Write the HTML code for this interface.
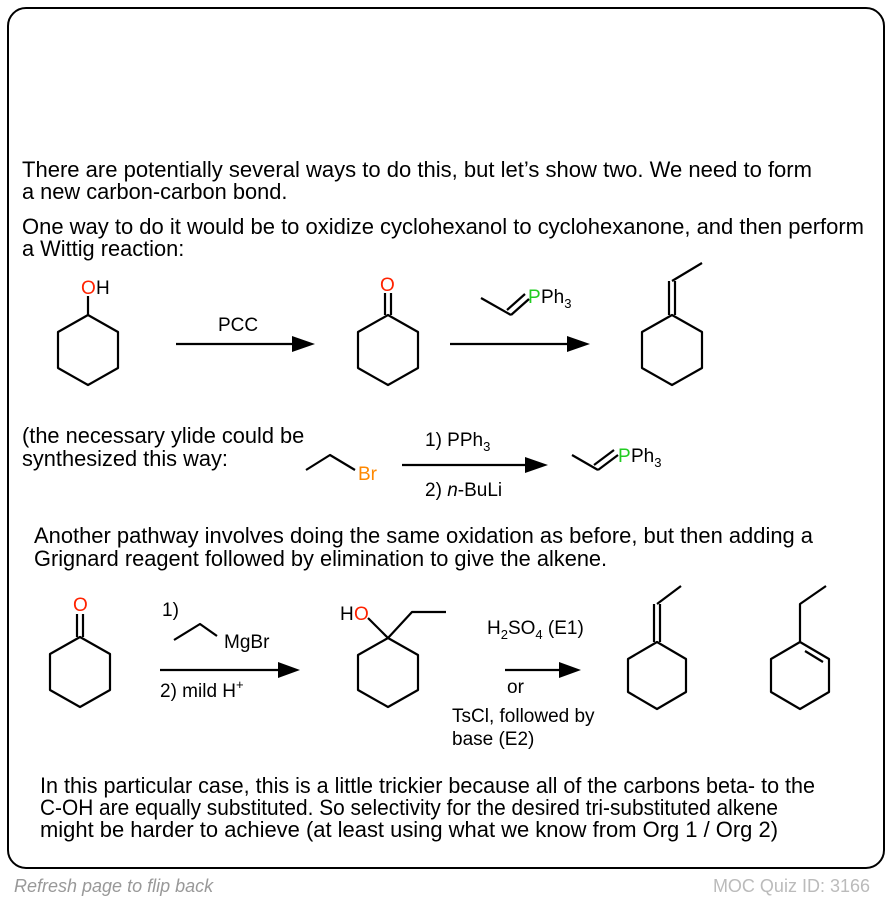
<!DOCTYPE html>
<html><head><meta charset="utf-8"><style>
body{margin:0;background:#fff;width:892px;height:902px;overflow:hidden}
svg{display:block}
text{font-family:"Liberation Sans",Arial,sans-serif;fill:#000}
</style></head><body>
<svg width="892" height="902" viewBox="0 0 892 902" xmlns="http://www.w3.org/2000/svg">
<rect x="8" y="8" width="876" height="860" rx="18" fill="#fff" stroke="#000" stroke-width="2"/>
<g font-size="21.8">
<text x="22" y="177" textLength="790" lengthAdjust="spacingAndGlyphs">There are potentially several ways to do this, but let’s show two. We need to form</text>
<text x="22" y="199">a new carbon-carbon bond.</text>
<text x="22" y="234" textLength="842" lengthAdjust="spacingAndGlyphs">One way to do it would be to oxidize cyclohexanol to cyclohexanone, and then perform</text>
<text x="22" y="256">a Wittig reaction:</text>
<text x="22" y="443">(the necessary ylide could be</text>
<text x="22" y="466">synthesized this way:</text>
<text x="34" y="543" textLength="779" lengthAdjust="spacingAndGlyphs">Another pathway involves doing the same oxidation as before, but then adding a</text>
<text x="34" y="566">Grignard reagent followed by elimination to give the alkene.</text>
<text x="40" y="793" textLength="775" lengthAdjust="spacingAndGlyphs">In this particular case, this is a little trickier because all of the carbons beta- to the</text>
<text x="40" y="815" textLength="738" lengthAdjust="spacingAndGlyphs">C-OH are equally substituted. So selectivity for the desired tri-substituted alkene</text>
<text x="40" y="837" textLength="738" lengthAdjust="spacingAndGlyphs">might be harder to achieve (at least using what we know from Org 1 / Org 2)</text>
</g>
<text x="14" y="892" font-size="18" font-style="italic" style="fill:#999">Refresh page to flip back</text>
<text x="870" y="892" font-size="18" text-anchor="end" style="fill:#bbb">MOC Quiz ID: 3166</text>

<g stroke="#000" stroke-width="2.2" fill="none" stroke-linejoin="round">
<polygon points="88,315 118,332 118,368 88,385 58,368 58,332"/>
<line x1="88" y1="315" x2="88" y2="296"/>
<polygon points="388,315 418,332 418,368 388,385 358,368 358,332"/>
<line x1="385" y1="315" x2="385" y2="293"/><line x1="391" y1="315" x2="391" y2="293"/>
<polygon points="672,315 702,332 702,368 672,385 642,368 642,332"/>
<line x1="669" y1="315" x2="669" y2="281"/><line x1="675" y1="315" x2="675" y2="281"/>
<line x1="672" y1="281" x2="702" y2="263"/>
<polyline points="481,298 511,315"/>
<line x1="511" y1="315" x2="529" y2="299"/><line x1="507" y1="310" x2="525" y2="294"/>
<line x1="176" y1="344" x2="300" y2="344"/>
<line x1="450" y1="344" x2="575" y2="344"/>
<polyline points="306,470 330,455 355,470"/>
<line x1="402" y1="465" x2="533" y2="465"/>
<line x1="572" y1="455" x2="598" y2="470"/>
<line x1="598" y1="470" x2="618" y2="455"/><line x1="594" y1="465" x2="614" y2="450"/>
<polygon points="80,637 110,654 110,690 80,707 50,690 50,654"/>
<line x1="77" y1="637" x2="77" y2="614"/><line x1="83" y1="637" x2="83" y2="614"/>
<polyline points="174,640 200,624 217,636"/>
<line x1="160" y1="670" x2="286" y2="670"/>
<polygon points="388,638 418,655 418,690 388,707 358,690 358,655"/>
<line x1="388" y1="638" x2="368" y2="618"/>
<polyline points="388,638 412,612 446,612"/>
<line x1="505" y1="670" x2="566" y2="670"/>
<polygon points="657,642 686,659 686,692 657,709 628,692 628,659"/>
<line x1="654" y1="642" x2="654" y2="604"/><line x1="660" y1="642" x2="660" y2="604"/>
<line x1="657" y1="604" x2="681" y2="586"/>
<polygon points="800,642 829,659 829,692 800,709 771,692 771,659"/>
<line x1="805" y1="651" x2="823" y2="662"/>
<polyline points="800,642 800,604 826,586"/>
</g>
<g fill="#000">
<polygon points="315,344 292,336 292,352"/>
<polygon points="590,344 567,336 567,352"/>
<polygon points="548,465 525,457 525,473"/>
<polygon points="300,670 278,662 278,678"/>
<polygon points="581,670 559,662 559,678"/>
</g>
<g font-size="19">
<text x="81" y="294" style="fill:#f20">O</text><text x="96" y="294">H</text>
<text x="380" y="291" style="fill:#f20">O</text>
<text x="218" y="331">PCC</text>
<text x="528" y="303" style="fill:#2c2">P</text><text x="541" y="303">Ph<tspan font-size="13" dy="5">3</tspan></text>
<text x="358" y="480" style="fill:#f80">Br</text>
<text x="425" y="446">1) PPh<tspan font-size="13" dy="5">3</tspan></text>
<text x="425" y="496">2) <tspan font-style="italic">n</tspan>-BuLi</text>
<text x="618" y="462" style="fill:#2c2">P</text><text x="631" y="462">Ph<tspan font-size="13" dy="5">3</tspan></text>
<text x="73" y="611" style="fill:#f20">O</text>
<text x="162" y="616">1)</text>
<text x="224" y="648">MgBr</text>
<text x="160" y="697">2) mild H<tspan font-size="13" dy="-8">+</tspan></text>
<text x="340" y="620">H</text><text x="354" y="620" style="fill:#f20">O</text>
<text x="487" y="634">H<tspan font-size="13" dy="5">2</tspan><tspan dy="-5">SO</tspan><tspan font-size="13" dy="5">4</tspan><tspan dy="-5"> (E1)</tspan></text>
<text x="507" y="693">or</text>
<text x="452" y="722">TsCl, followed by</text>
<text x="452" y="745">base (E2)</text>
</g>
</svg>
</body></html>
